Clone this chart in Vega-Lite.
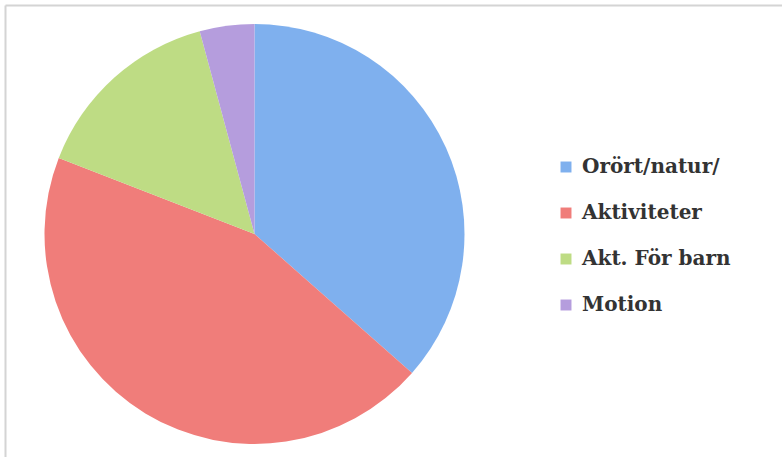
{
  "$schema": "https://vega.github.io/schema/vega-lite/v6.json",
  "width": 777,
  "height": 452,
  "padding": {"left": 5, "top": 5, "right": 0, "bottom": 0},
  "background": "white",
  "config": {
    "view": {"stroke": null},
    "axis": {
      "domainColor": "#d4d4d4",
      "domainWidth": 2,
      "ticks": false,
      "labels": false,
      "grid": false,
      "title": null
    }
  },
  "data": {
    "values": [
      {"kategori": "Orört/natur/", "andel": 36.5, "ordning": 1},
      {"kategori": "Aktiviteter", "andel": 44.4, "ordning": 2},
      {"kategori": "Akt. För barn", "andel": 14.9, "ordning": 3},
      {"kategori": "Motion", "andel": 4.2, "ordning": 4}
    ]
  },
  "layer": [
    {
      "mark": {"type": "point", "opacity": 0},
      "encoding": {
        "x": {"field": "ordning", "type": "quantitative", "axis": {"orient": "top"}},
        "y": {"field": "andel", "type": "quantitative", "axis": {"orient": "left"}}
      }
    },
    {
      "mark": {"type": "arc", "radius": 210, "x": 249.5, "y": 229},
      "encoding": {
        "theta": {"field": "andel", "type": "quantitative", "stack": true},
        "order": {"field": "ordning", "type": "quantitative"},
        "color": {
          "field": "kategori",
          "type": "nominal",
          "sort": ["Orört/natur/", "Aktiviteter", "Akt. För barn", "Motion"],
          "scale": {
            "domain": ["Orört/natur/", "Aktiviteter", "Akt. För barn", "Motion"],
            "range": ["#7fb0ee", "#f07d7a", "#bedc84", "#b59ddd"]
          },
          "legend": {
            "orient": "none",
            "legendX": 551,
            "legendY": 152,
            "title": null,
            "symbolType": "square",
            "symbolSize": 120,
            "symbolStrokeWidth": 0,
            "labelFont": "DejaVu Serif",
            "labelFontSize": 20,
            "labelFontWeight": "bold",
            "labelColor": "#333333",
            "labelOffset": 6,
            "rowPadding": 26,
            "labelLimit": 300
          }
        }
      }
    }
  ]
}
